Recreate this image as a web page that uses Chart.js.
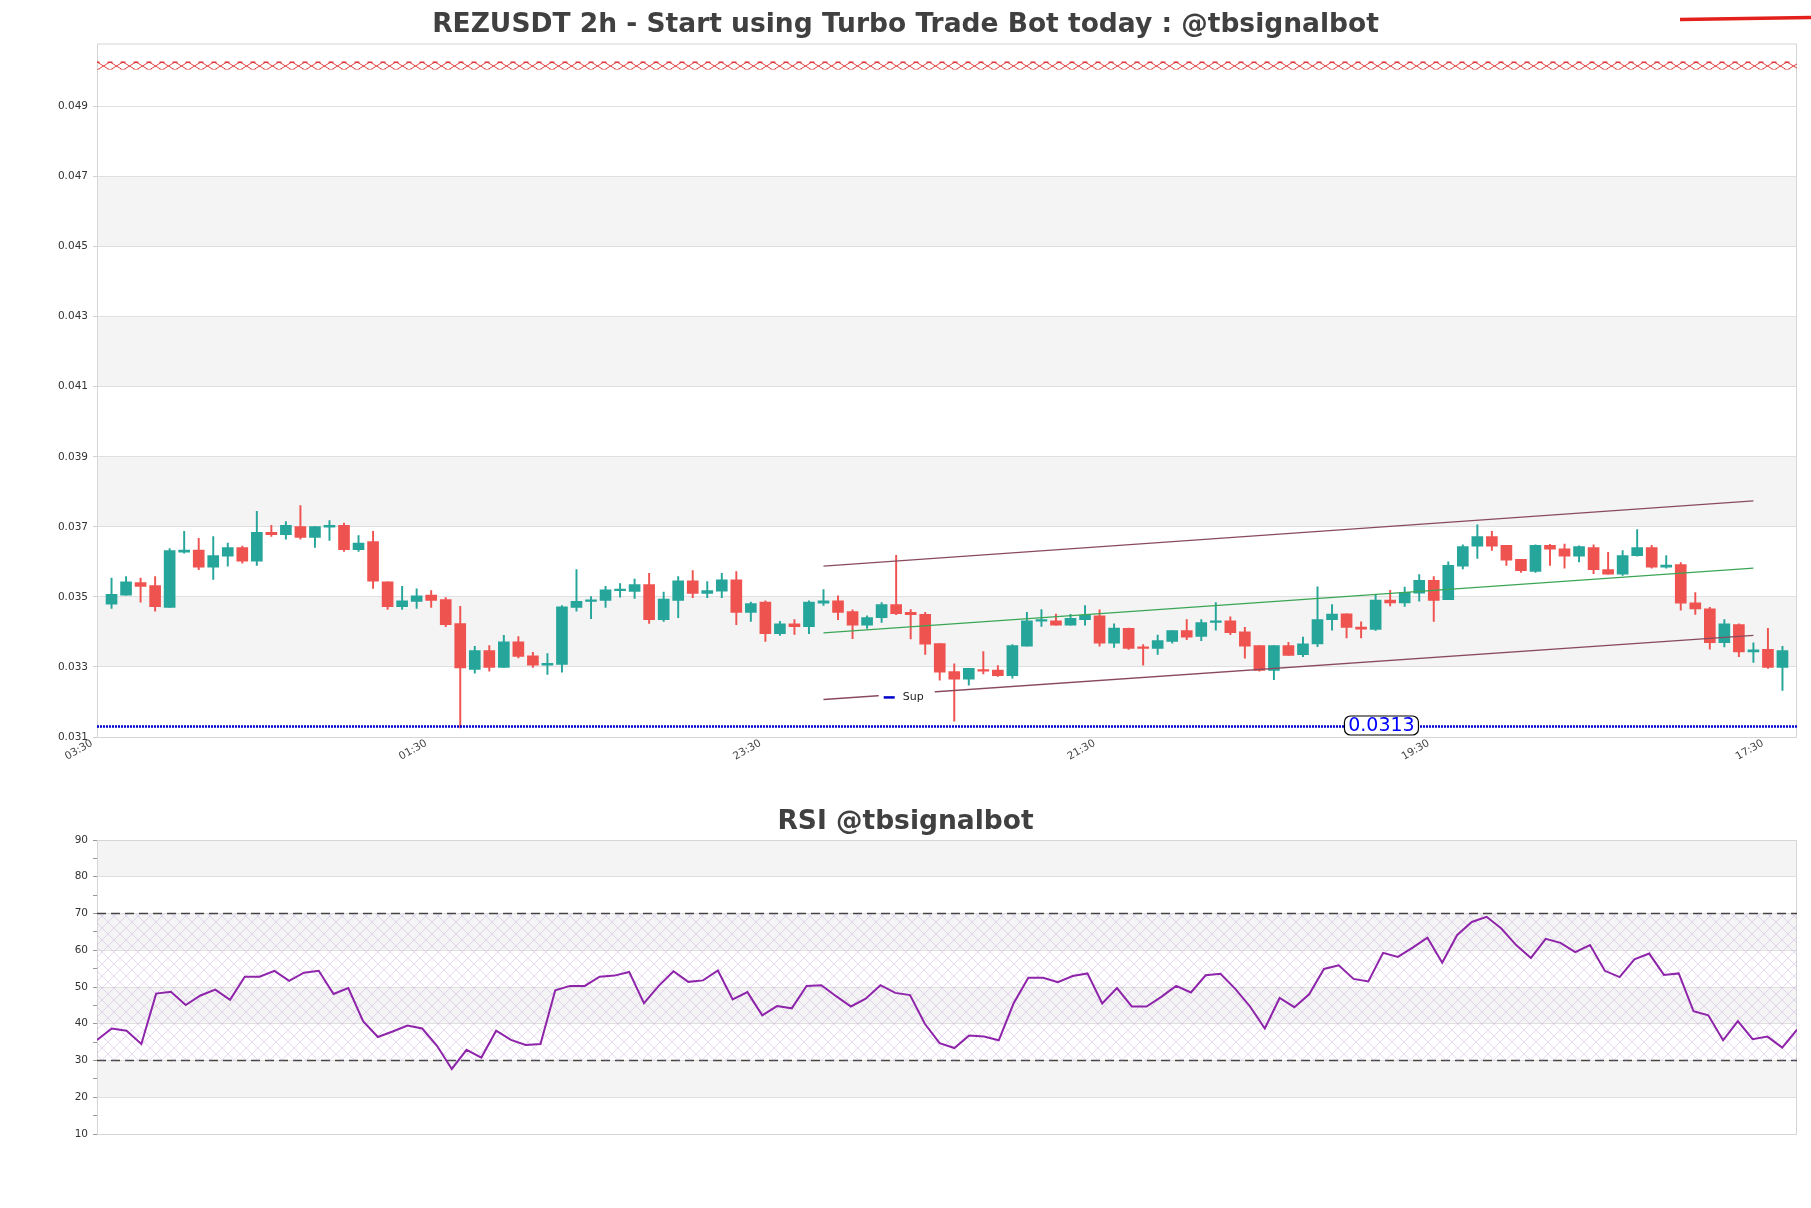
<!DOCTYPE html>
<html>
<head>
<meta charset="utf-8">
<title>REZUSDT 2h</title>
<script src="https://cdn.jsdelivr.net/npm/chart.js@4.4.1/dist/chart.umd.min.js"></script>
<style>
  html, body { margin: 0; padding: 0; background: #fff; }
  canvas { display: block; }
</style>
</head>
<body>
<canvas id="priceChart" width="1811" height="790"></canvas>
<canvas id="rsiChart" width="1811" height="418"></canvas>
<script>
// candles, 2h
const opens = [
  0.03479, 0.03505, 0.03541, 0.03532, 0.03470, 0.03628, 0.03634, 0.03585, 0.03616, 0.03641,
  0.03602, 0.03684, 0.03678, 0.03701, 0.03670, 0.03699, 0.03704, 0.03635, 0.03658, 0.03543,
  0.03472, 0.03487, 0.03505, 0.03492, 0.03424, 0.03293, 0.03347, 0.03299, 0.03372, 0.03332,
  0.03305, 0.03307, 0.03470, 0.03487, 0.03490, 0.03518, 0.03516, 0.03535, 0.03435, 0.03490,
  0.03546, 0.03510, 0.03516, 0.03549, 0.03456, 0.03485, 0.03395, 0.03423, 0.03415, 0.03482,
  0.03489, 0.03458, 0.03419, 0.03441, 0.03478, 0.03456, 0.03450, 0.03367, 0.03287, 0.03265,
  0.03291, 0.03291, 0.03275, 0.03359, 0.03431, 0.03432, 0.03419, 0.03435, 0.03446, 0.03368,
  0.03410, 0.03356, 0.03353, 0.03373, 0.03404, 0.03387, 0.03427, 0.03432, 0.03400, 0.03361,
  0.03290, 0.03361, 0.03335, 0.03366, 0.03435, 0.03452, 0.03414, 0.03407, 0.03491, 0.03483,
  0.03511, 0.03547, 0.03492, 0.03588, 0.03645, 0.03672, 0.03647, 0.03607, 0.03573, 0.03647,
  0.03637, 0.03616, 0.03641, 0.03578, 0.03565, 0.03618, 0.03641, 0.03585, 0.03592, 0.03483,
  0.03466, 0.03369, 0.03421, 0.03343, 0.03350, 0.03299
];
const highs = [
  0.03554, 0.03558, 0.03554, 0.03558, 0.03638, 0.03687, 0.03667, 0.03672, 0.03654, 0.03645,
  0.03744, 0.03704, 0.03715, 0.03761, 0.03701, 0.03718, 0.03711, 0.03675, 0.03687, 0.03543,
  0.03530, 0.03523, 0.03518, 0.03498, 0.03473, 0.03359, 0.03361, 0.03390, 0.03387, 0.03342,
  0.03338, 0.03475, 0.03578, 0.03501, 0.03530, 0.03538, 0.03551, 0.03567, 0.03514, 0.03558,
  0.03575, 0.03544, 0.03567, 0.03572, 0.03485, 0.03489, 0.03430, 0.03435, 0.03489, 0.03521,
  0.03503, 0.03463, 0.03446, 0.03484, 0.03619, 0.03464, 0.03456, 0.03367, 0.03309, 0.03296,
  0.03344, 0.03304, 0.03364, 0.03456, 0.03464, 0.03451, 0.03450, 0.03475, 0.03463, 0.03423,
  0.03411, 0.03364, 0.03391, 0.03404, 0.03435, 0.03435, 0.03484, 0.03443, 0.03413, 0.03361,
  0.03361, 0.03370, 0.03385, 0.03529, 0.03478, 0.03452, 0.03429, 0.03505, 0.03519, 0.03528,
  0.03564, 0.03558, 0.03600, 0.03649, 0.03706, 0.03687, 0.03647, 0.03607, 0.03649, 0.03650,
  0.03651, 0.03646, 0.03649, 0.03627, 0.03632, 0.03692, 0.03647, 0.03618, 0.03598, 0.03512,
  0.03470, 0.03435, 0.03423, 0.03369, 0.03410, 0.03359
];
const lows = [
  0.03467, 0.03505, 0.03485, 0.03459, 0.03470, 0.03625, 0.03578, 0.03550, 0.03588, 0.03596,
  0.03590, 0.03673, 0.03665, 0.03665, 0.03641, 0.03661, 0.03630, 0.03630, 0.03524, 0.03464,
  0.03464, 0.03467, 0.03470, 0.03415, 0.03126, 0.03282, 0.03288, 0.03299, 0.03326, 0.03299,
  0.03279, 0.03285, 0.03459, 0.03438, 0.03470, 0.03499, 0.03496, 0.03424, 0.03430, 0.03441,
  0.03498, 0.03498, 0.03498, 0.03421, 0.03430, 0.03373, 0.03390, 0.03393, 0.03395, 0.03476,
  0.03435, 0.03381, 0.03410, 0.03427, 0.03449, 0.03380, 0.03336, 0.03262, 0.03145, 0.03248,
  0.03280, 0.03273, 0.03268, 0.03359, 0.03416, 0.03419, 0.03419, 0.03419, 0.03359, 0.03356,
  0.03350, 0.03305, 0.03336, 0.03368, 0.03378, 0.03375, 0.03405, 0.03392, 0.03325, 0.03288,
  0.03264, 0.03333, 0.03329, 0.03358, 0.03405, 0.03383, 0.03383, 0.03404, 0.03474, 0.03473,
  0.03488, 0.03430, 0.03492, 0.03580, 0.03610, 0.03633, 0.03590, 0.03570, 0.03570, 0.03590,
  0.03582, 0.03600, 0.03566, 0.03565, 0.03561, 0.03616, 0.03582, 0.03582, 0.03462, 0.03450,
  0.03351, 0.03357, 0.03329, 0.03313, 0.03296, 0.03233
];
const closes = [
  0.03507, 0.03543, 0.03530, 0.03472, 0.03632, 0.03634, 0.03585, 0.03618, 0.03641, 0.03602,
  0.03684, 0.03678, 0.03704, 0.03670, 0.03701, 0.03704, 0.03635, 0.03654, 0.03545, 0.03472,
  0.03489, 0.03503, 0.03490, 0.03421, 0.03297, 0.03347, 0.03299, 0.03372, 0.03330, 0.03305,
  0.03310, 0.03472, 0.03487, 0.03490, 0.03520, 0.03521, 0.03535, 0.03435, 0.03494, 0.03546,
  0.03510, 0.03518, 0.03549, 0.03456, 0.03481, 0.03395, 0.03423, 0.03415, 0.03485, 0.03489,
  0.03456, 0.03419, 0.03441, 0.03478, 0.03452, 0.03449, 0.03365, 0.03285, 0.03265, 0.03296,
  0.03288, 0.03275, 0.03361, 0.03432, 0.03435, 0.03419, 0.03439, 0.03448, 0.03368, 0.03411,
  0.03353, 0.03353, 0.03375, 0.03404, 0.03385, 0.03427, 0.03432, 0.03398, 0.03359, 0.03290,
  0.03361, 0.03333, 0.03366, 0.03435, 0.03451, 0.03413, 0.03408, 0.03491, 0.03483, 0.03513,
  0.03547, 0.03490, 0.03590, 0.03644, 0.03672, 0.03645, 0.03605, 0.03575, 0.03647, 0.03636,
  0.03616, 0.03644, 0.03578, 0.03565, 0.03618, 0.03641, 0.03585, 0.03591, 0.03482, 0.03466,
  0.03369, 0.03423, 0.03343, 0.03349, 0.03299, 0.03347
];
const rsiValues = [
  35.6, 38.7, 38.1, 34.5, 48.2, 48.7, 45.1, 47.7, 49.3, 46.5,
  52.8, 52.8, 54.4, 51.7, 53.9, 54.4, 48.1, 49.7, 40.7, 36.4,
  37.9, 39.5, 38.7, 34.0, 27.7, 32.9, 30.8, 38.1, 35.6, 34.2,
  34.5, 49.1, 50.3, 50.3, 52.8, 53.1, 54.1, 45.6, 50.3, 54.3,
  51.4, 51.8, 54.5, 46.6, 48.6, 42.3, 44.8, 44.2, 50.3, 50.5,
  47.5, 44.7, 46.8, 50.5, 48.4, 47.8, 40.0, 34.7, 33.4, 36.8,
  36.5, 35.5, 45.5, 52.5, 52.5, 51.3, 53.0, 53.7, 45.5, 49.7,
  44.7, 44.7, 47.3, 50.3, 48.5, 53.2, 53.6, 49.5, 44.7, 38.7,
  47.0, 44.5, 48.0, 54.9, 55.9, 52.2, 51.5, 59.3, 58.2, 60.7,
  63.4, 56.6, 64.1, 67.7, 69.1, 65.9, 61.4, 57.9, 63.1, 62.0,
  59.5, 61.4, 54.4, 52.7, 57.5, 59.1, 53.3, 53.7, 43.4, 42.3,
  35.5, 40.7, 35.8, 36.5, 33.5, 38.4
];

const tickPositions = [-1, 22, 45, 68, 91, 114];
const tickLabels = ['03:30', '01:30', '23:30', '21:30', '19:30', '17:30'];
const priceTicks = [0.031, 0.033, 0.035, 0.037, 0.039, 0.041, 0.043, 0.045, 0.047, 0.049];
const rsiTicks = [10, 20, 30, 40, 50, 60, 70, 80, 90];

// trend channel (start/end candle index and prices)
const channelX = [49, 113];
const channelUpper = [0.03588, 0.03774];
const channelMiddle = [0.03397, 0.03582];
const channelLower = [0.03207, 0.03390];

const resistanceLevel = 0.05017;
const supportLevel = 0.0313;
const rsiHigh = 70;
const rsiLow = 30;

const FONT = "'DejaVu Sans', 'Liberation Sans', sans-serif";
const GREEN = '#26a69a';
const RED = '#ef5350';

const isUp = i => closes[i] >= opens[i];
const candleColor = ctx => (isUp(ctx.dataIndex) ? GREEN : RED);

function hatch(w, h, draw) {
  const c = document.createElement('canvas');
  c.width = w;
  c.height = h;
  draw(c.getContext('2d'), w, h);
  return c.getContext('2d').createPattern(c, 'repeat');
}

// chain of x's, with short caps where they meet
const resPattern = hatch(13, 8, (g, w, h) => {
  g.strokeStyle = 'rgba(220, 40, 40, 0.85)';
  g.lineWidth = 1;
  g.beginPath();
  g.moveTo(0, 0); g.lineTo(w, h);
  g.moveTo(0, h); g.lineTo(w, 0);
  g.moveTo(0, 0.5); g.lineTo(2.5, 0.5);
  g.moveTo(w - 2.5, 0.5); g.lineTo(w, 0.5);
  g.moveTo(0, h - 0.5); g.lineTo(2.5, h - 0.5);
  g.moveTo(w - 2.5, h - 0.5); g.lineTo(w, h - 0.5);
  g.stroke();
});

const rsiPattern = hatch(12, 12, (g, w, h) => {
  g.strokeStyle = 'rgba(190, 150, 215, 0.45)';
  g.lineWidth = 0.8;
  g.beginPath();
  g.moveTo(0, 0); g.lineTo(w, h);
  g.moveTo(w, 0); g.lineTo(0, h);
  g.stroke();
});

// every other tick interval gets a light band
function bandRanges(ticks) {
  const out = [];
  for (let i = 1; i + 1 < ticks.length; i += 2) out.push([ticks[i], ticks[i + 1]]);
  return out;
}

const bandsPlugin = {
  id: 'bands',
  beforeDraw(chart, args, opts) {
    const { ctx, chartArea: a, scales: { y } } = chart;
    ctx.save();
    ctx.fillStyle = opts.color;
    opts.ranges.forEach(([lo, hi]) => {
      const top = y.getPixelForValue(hi);
      const bot = y.getPixelForValue(lo);
      ctx.fillRect(a.left, top, a.right - a.left, bot - top);
    });
    ctx.restore();
  },
  beforeDatasetsDraw(chart) {
    const { ctx, chartArea: a } = chart;
    ctx.save();
    ctx.strokeStyle = '#d6d6d6';
    ctx.lineWidth = 1;
    ctx.strokeRect(a.left + 0.5, a.top + 0.5, a.right - a.left - 1, a.bottom - a.top);
    ctx.restore();
  }
};

const pricePlugin = {
  id: 'priceExtras',
  beforeDatasetsDraw(chart) {
    const y = chart.scales.y.getPixelForValue(resistanceLevel);
    resPattern.setTransform(new DOMMatrix().translate(chart.chartArea.left, Math.round(y) - 4));
  },
  afterDatasetsDraw(chart) {
    const { ctx, scales: { x, y } } = chart;
    ctx.save();

    // legend box for the support line
    const lx = x.getPixelForValue(52.8);
    const ly = y.getPixelForValue(0.03213);
    ctx.fillStyle = '#fff';
    ctx.fillRect(lx, ly - 12, 56, 24);
    ctx.strokeStyle = '#0000cc';
    ctx.lineWidth = 2.5;
    ctx.beginPath();
    ctx.moveTo(lx + 5, ly);
    ctx.lineTo(lx + 16, ly);
    ctx.stroke();
    ctx.fillStyle = '#222';
    ctx.font = '11px ' + FONT;
    ctx.textBaseline = 'middle';
    ctx.fillText('Sup', lx + 24, ly);

    // price tag on the support line
    const tx = x.getPixelForValue(87.4);
    const ty = y.getPixelForValue(supportLevel) - 1;
    ctx.beginPath();
    ctx.roundRect(tx - 37, ty - 9.5, 74, 19, 6);
    ctx.fillStyle = '#fff';
    ctx.fill();
    ctx.strokeStyle = '#000';
    ctx.lineWidth = 1.2;
    ctx.stroke();
    ctx.fillStyle = '#0000ff';
    ctx.font = '19px ' + FONT;
    ctx.textAlign = 'center';
    ctx.fillText(supportLevel.toFixed(4), tx, ty + 1);
    ctx.restore();
  },
  afterDraw(chart) {
    const ctx = chart.ctx;
    ctx.save();
    ctx.strokeStyle = '#e3201b';
    ctx.lineWidth = 3.5;
    ctx.beginPath();
    ctx.moveTo(1680, 19.5);
    ctx.lineTo(1811, 17.5);
    ctx.stroke();
    ctx.restore();
  }
};

const idx = closes.map((_, i) => i);
const seg = (xs, ys) => xs.map((v, i) => ({ x: v, y: ys[i] }));
const flat = level => [{ x: -1, y: level }, { x: 116, y: level }];

new Chart(document.getElementById('priceChart'), {
  type: 'bar',
  data: {
    datasets: [
      { type: 'line', data: flat(resistanceLevel), borderColor: resPattern, borderWidth: 8,
        pointRadius: 0, order: 1, clip: false },
      { type: 'line', data: flat(supportLevel), borderColor: '#0000cd', borderWidth: 2.5,
        borderDash: [2, 1], pointRadius: 0, order: 1 },
      { type: 'line', data: seg(channelX, channelUpper), borderColor: '#8a4a5e', borderWidth: 1.3,
        pointRadius: 0, order: 1 },
      { type: 'line', data: seg(channelX, channelMiddle), borderColor: '#3aa655', borderWidth: 1.3,
        pointRadius: 0, order: 1 },
      { type: 'line', data: seg(channelX, channelLower), borderColor: '#8a4a5e', borderWidth: 1.3,
        pointRadius: 0, order: 1 },
      { data: idx.map(i => ({ x: i, y: [opens[i], closes[i]] })), backgroundColor: candleColor,
        barThickness: 11, minBarLength: 1.5, grouped: false, order: 2 },
      { data: idx.map(i => ({ x: i, y: [lows[i], highs[i]] })), backgroundColor: candleColor,
        barThickness: 1.3, grouped: false, order: 3 }
    ]
  },
  options: {
    responsive: false,
    animation: false,
    events: [],
    layout: { padding: { left: 14, right: 14, top: 0, bottom: 0 } },
    plugins: {
      legend: { display: false },
      tooltip: { enabled: false },
      title: {
        display: true,
        text: 'REZUSDT 2h - Start using Turbo Trade Bot today : @tbsignalbot',
        color: '#404040',
        font: { family: FONT, size: 26.5, weight: 'bold', lineHeight: 1.2 },
        padding: { top: 8.8, bottom: 2.9 }
      },
      bands: { ranges: bandRanges(priceTicks), color: '#f4f4f4' }
    },
    scales: {
      x: {
        type: 'linear', min: -1, max: 116, offset: false,
        grid: { display: false, drawTicks: false, offset: false },
        border: { display: false },
        afterBuildTicks: s => { s.ticks = tickPositions.map(v => ({ value: v })); },
        ticks: {
          autoSkip: false, minRotation: 30, maxRotation: 30, padding: 0, labelOffset: -5,
          color: '#444', font: { family: FONT, size: 10.5 },
          callback: (v, i) => tickLabels[i]
        },
        afterFit: s => { s.height = 53; }
      },
      y: {
        min: 0.031, max: 0.0508,
        afterBuildTicks: s => { s.ticks = priceTicks.map(v => ({ value: v })); },
        grid: { color: '#e0e0e0', tickColor: '#d0d0d0', tickLength: 4 },
        border: { display: false },
        ticks: { color: '#333', padding: 5, font: { family: FONT, size: 10.5 },
          callback: v => v.toFixed(3) },
        afterFit: s => { s.width = 83; }
      }
    }
  },
  plugins: [bandsPlugin, pricePlugin]
});

new Chart(document.getElementById('rsiChart'), {
  type: 'line',
  data: {
    datasets: [
      { data: idx.map(i => ({ x: i, y: rsiValues[i] })), borderColor: '#8e24aa', borderWidth: 2,
        pointRadius: 0, order: 0 },
      { data: [{ x: 0, y: rsiHigh }, { x: 115, y: rsiHigh }], borderColor: '#444', borderWidth: 1.3,
        borderDash: [9, 5], pointRadius: 0, fill: '+1', backgroundColor: rsiPattern, order: 1 },
      { data: [{ x: 0, y: rsiLow }, { x: 115, y: rsiLow }], borderColor: '#444', borderWidth: 1.3,
        borderDash: [9, 5], pointRadius: 0, fill: false, order: 1 }
    ]
  },
  options: {
    responsive: false,
    animation: false,
    events: [],
    layout: { padding: { left: 14, right: 14, top: 0, bottom: 0 } },
    plugins: {
      legend: { display: false },
      tooltip: { enabled: false },
      title: {
        display: true,
        text: 'RSI @tbsignalbot',
        color: '#404040',
        font: { family: FONT, size: 26.5, weight: 'bold', lineHeight: 1.2 },
        padding: { top: 16.5, bottom: 1.7 }
      },
      bands: { ranges: bandRanges(rsiTicks), color: '#f4f4f4' }
    },
    scales: {
      x: {
        type: 'linear', min: 0, max: 115,
        grid: { display: false, drawTicks: false },
        border: { display: false },
        ticks: { display: false },
        afterFit: s => { s.height = 74; }
      },
      y: {
        min: 10, max: 90,
        afterBuildTicks: s => {
          const t = [];
          for (let v = rsiTicks[0]; v <= rsiTicks[rsiTicks.length - 1]; v += 5) t.push({ value: v });
          s.ticks = t;
        },
        grid: {
          color: c => (c.tick && c.tick.value % 10 === 0 ? '#e0e0e0' : 'rgba(0,0,0,0)'),
          tickColor: '#999', tickLength: 4
        },
        border: { display: false },
        ticks: { color: '#333', padding: 5, font: { family: FONT, size: 10.5 },
          callback: v => (v % 10 === 0 ? String(v) : '') },
        afterFit: s => { s.width = 83; }
      }
    }
  },
  plugins: [bandsPlugin]
});
</script>
</body>
</html>
